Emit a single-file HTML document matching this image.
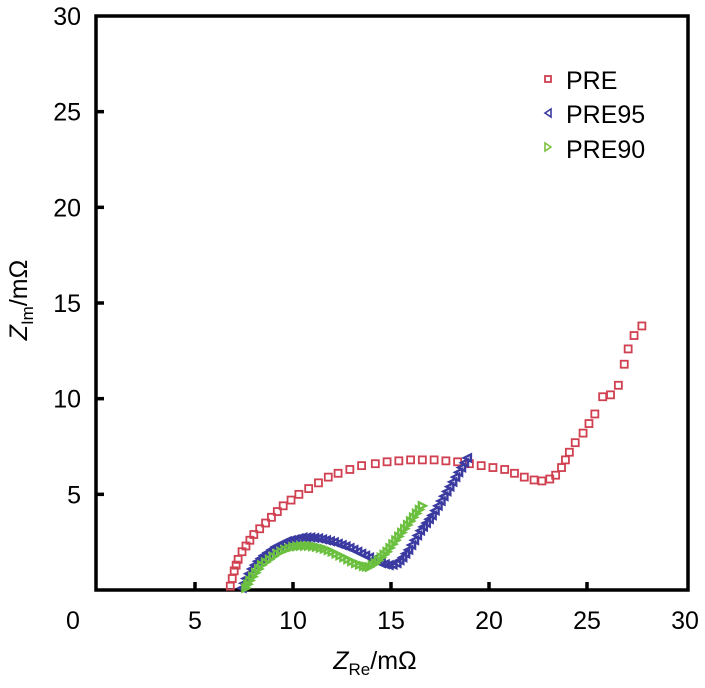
<!DOCTYPE html>
<html><head><meta charset="utf-8"><style>
body{margin:0;background:#fff;}
svg text{font-family:"Liberation Sans",sans-serif;fill:#000;}
</style></head><body>
<svg id="chart" width="705" height="683" xmlns="http://www.w3.org/2000/svg">
<rect x="96" y="16" width="592" height="574" fill="none" stroke="#000" stroke-width="3.5"/>
<g id="ticks"></g>
<g id="marks"></g>
<text x="27" y="300" font-size="25" text-anchor="middle" transform="rotate(-90 27 300)"><tspan font-style="italic">Z</tspan><tspan font-size="17" dy="6">Im</tspan><tspan dy="-6">/mΩ</tspan></text>
<text x="375" y="669" font-size="25" text-anchor="middle"><tspan font-style="italic">Z</tspan><tspan font-size="17" dy="6">Re</tspan><tspan dy="-6">/mΩ</tspan></text>
<g>
<rect x="545" y="76" width="6" height="6" fill="none" stroke="#d04050" stroke-width="1.8"/>
<text x="566" y="89" font-size="25">PRE</text>
<polygon points="545,113 551,109 551,117" fill="none" stroke="#3a3aa0" stroke-width="1.6"/>
<text x="566" y="123" font-size="25">PRE95</text>
<polygon points="551,147 545,143 545,151" fill="none" stroke="#7cc040" stroke-width="1.6"/>
<text x="566" y="158" font-size="25">PRE90</text>
</g>
</svg>
<script>
const xTicks=[0,5,10,15,20,25,30];
const yTicks=[5,10,15,20,25,30];
const preX=[6.8,6.9,7.0,7.1,7.2,7.4,7.6,7.8,8.0,8.3,8.6,8.9,9.2,9.5,9.9,10.3,10.8,11.3,11.8,12.3,12.9,13.5,14.2,14.8,15.4,16.0,16.6,17.2,17.8,18.4,19.0,19.6,20.2,20.8,21.3,21.8,22.3,22.7,23.1,23.4,23.7,23.9,24.1,24.4,24.8,25.1,25.4,25.8,26.2,26.6,26.9,27.1,27.4,27.8];
const preY=[0.2,0.6,1.0,1.3,1.6,2.0,2.3,2.6,2.9,3.2,3.5,3.8,4.1,4.4,4.7,5.0,5.3,5.6,5.9,6.1,6.3,6.5,6.6,6.7,6.75,6.8,6.8,6.8,6.75,6.7,6.6,6.5,6.4,6.3,6.1,5.9,5.75,5.7,5.8,6.0,6.4,6.8,7.2,7.7,8.2,8.7,9.2,10.1,10.2,10.7,11.8,12.6,13.3,13.8];
const pre95X=[7.4,7.5,7.6,7.75,7.9,8.05,8.2,8.35,8.5,8.7,8.9,9.1,9.3,9.5,9.7,9.9,10.1,10.3,10.5,10.7,10.9,11.1,11.3,11.5,11.7,11.9,12.1,12.3,12.5,12.7,12.9,13.1,13.3,13.5,13.7,13.9,14.1,14.3,14.5,14.7,14.9,15.1,15.3,15.45,15.6,15.75,15.9,16.05,16.2,16.35,16.5,16.65,16.8,16.95,17.1,17.25,17.4,17.55,17.7,17.85,18.0,18.15,18.3,18.45,18.6,18.75,18.9];
const pre95Y=[0.1,0.35,0.6,0.85,1.1,1.3,1.5,1.65,1.8,1.95,2.1,2.25,2.35,2.45,2.55,2.6,2.65,2.7,2.75,2.75,2.75,2.72,2.7,2.65,2.6,2.55,2.5,2.42,2.35,2.28,2.2,2.1,2.0,1.9,1.8,1.7,1.6,1.5,1.4,1.35,1.3,1.32,1.4,1.55,1.7,1.9,2.1,2.35,2.6,2.85,3.1,3.3,3.5,3.7,3.9,4.15,4.4,4.65,4.9,5.15,5.4,5.65,5.9,6.15,6.4,6.65,6.9];
const pre90X=[7.6,7.7,7.8,7.95,8.1,8.25,8.4,8.6,8.8,9.0,9.2,9.4,9.6,9.8,10.0,10.2,10.4,10.6,10.8,11.0,11.2,11.4,11.6,11.8,12.0,12.2,12.4,12.6,12.8,13.0,13.2,13.4,13.6,13.75,13.9,14.05,14.2,14.35,14.5,14.65,14.8,14.95,15.1,15.25,15.4,15.55,15.7,15.85,16.0,16.15,16.3,16.45,16.6];
const pre90Y=[0.1,0.3,0.5,0.7,0.9,1.1,1.3,1.45,1.6,1.75,1.9,2.0,2.1,2.18,2.25,2.28,2.3,2.3,2.3,2.28,2.25,2.2,2.15,2.08,2.0,1.9,1.8,1.7,1.6,1.5,1.4,1.32,1.25,1.22,1.2,1.3,1.4,1.55,1.7,1.85,2.0,2.2,2.4,2.6,2.8,3.0,3.2,3.4,3.6,3.8,4.0,4.2,4.4];
const NS="http://www.w3.org/2000/svg";
function sx(v){return 97+v*(685-97)/30;}
function sy(v){return 590-v*(590-16)/30;}
const tg=document.getElementById('ticks');
xTicks.forEach(t=>{
 if(t>0&&t<30){const l=document.createElementNS(NS,'line');
 l.setAttribute('x1',sx(t));l.setAttribute('x2',sx(t));l.setAttribute('y1',590);l.setAttribute('y2',582);
 l.setAttribute('stroke','#000');l.setAttribute('stroke-width','3.5');
 
 
 tg.appendChild(l);}
 const tx=document.createElementNS(NS,'text');
 tx.setAttribute('x',t===0?73:sx(t));tx.setAttribute('y',629);tx.setAttribute('font-size','25');tx.setAttribute('text-anchor','middle');
 tx.textContent=t;
 
 
 tg.appendChild(tx);
});
yTicks.forEach(t=>{
 if(t<30){const l=document.createElementNS(NS,'line');
 l.setAttribute('x1',96);l.setAttribute('x2',104);l.setAttribute('y1',sy(t));l.setAttribute('y2',sy(t));
 l.setAttribute('stroke','#000');l.setAttribute('stroke-width','3.5');
 
 
 tg.appendChild(l);}
 const tx=document.createElementNS(NS,'text');
 tx.setAttribute('x',81);tx.setAttribute('y',sy(t)+9);tx.setAttribute('font-size','25');tx.setAttribute('text-anchor','end');
 tx.textContent=t;
 
 
 tg.appendChild(tx);
});
const mg=document.getElementById('marks');
preX.forEach((x,i)=>{
 const r=document.createElementNS(NS,'rect');
 r.setAttribute('x',sx(x)-3.5);r.setAttribute('y',sy(preY[i])-3.5);r.setAttribute('width',7);r.setAttribute('height',7);
 r.setAttribute('fill','none');r.setAttribute('stroke','#d04050');r.setAttribute('stroke-width','1.8');
 
 
 mg.appendChild(r);
});
function tri(xs,ys,dir,col,name){
 xs.forEach((x,i)=>{
  const cx=sx(x),cy=sy(ys[i]);
  const p=document.createElementNS(NS,'polygon');
  const pts=dir<0?[[cx-3.5,cy],[cx+3.5,cy-3.5],[cx+3.5,cy+3.5]]:[[cx+3.5,cy],[cx-3.5,cy-3.5],[cx-3.5,cy+3.5]];
  p.setAttribute('points',pts.map(q=>q.join(',')).join(' '));
  p.setAttribute('fill','none');p.setAttribute('stroke',col);p.setAttribute('stroke-width','2.4');
  
  
  mg.appendChild(p);
 });
}
tri(pre95X,pre95Y,-1,'#3a3aa0','pre95-point');
tri(pre90X,pre90Y,1,'#6cc040','pre90-point');
</script>
</body></html>
